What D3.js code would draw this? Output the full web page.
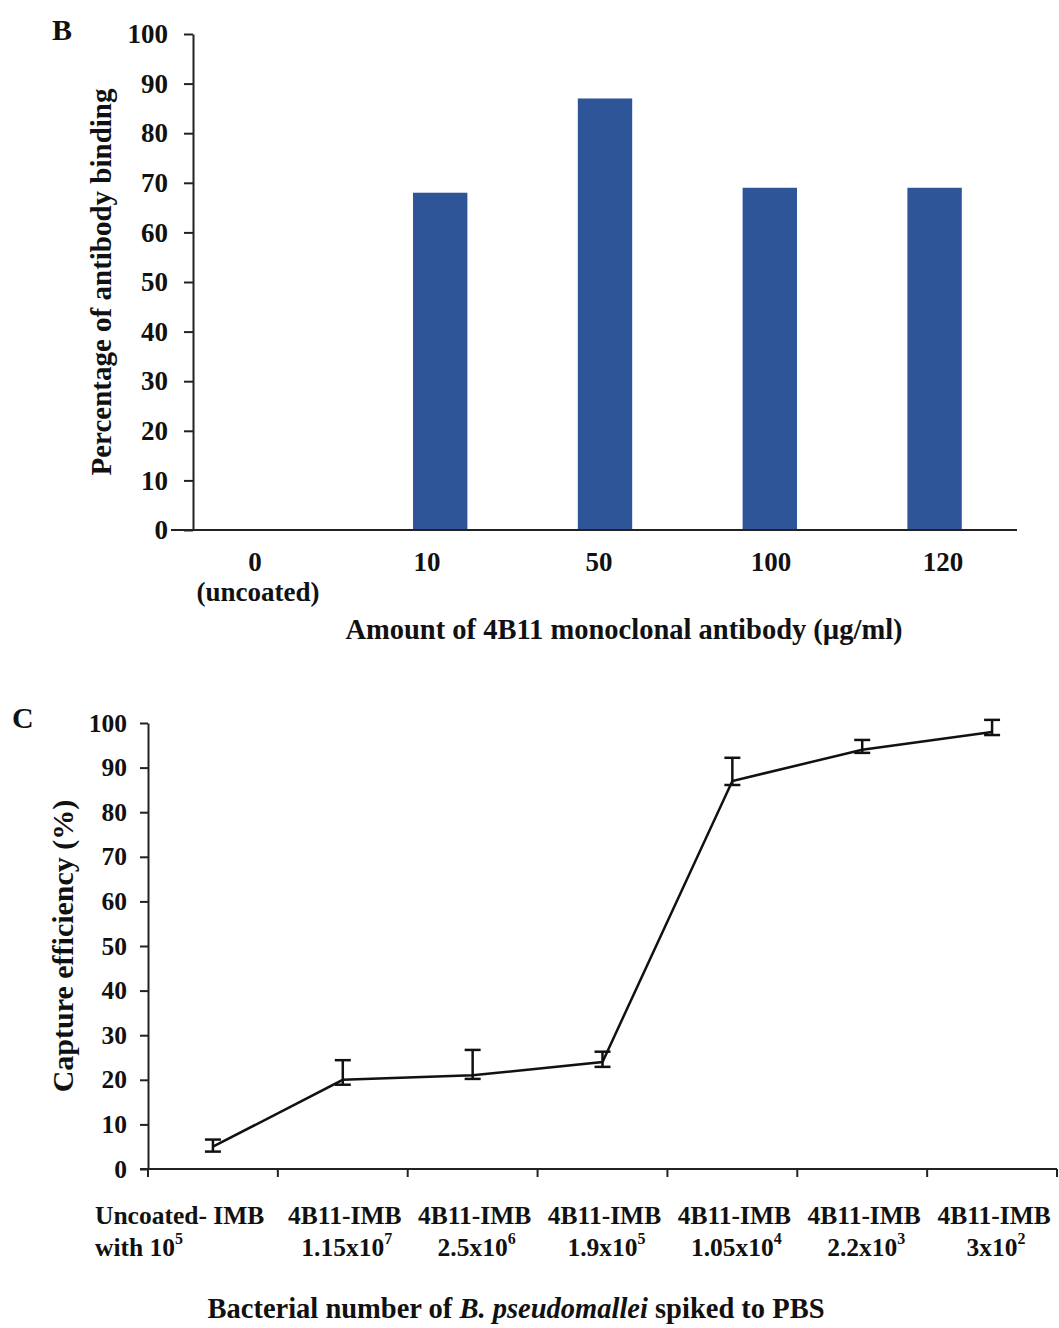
<!DOCTYPE html>
<html>
<head>
<meta charset="utf-8">
<script src="https://cdn.jsdelivr.net/npm/d3@7"></script>
<style>
	body { margin: 0; background: #fff; }
	text { font-family: "Liberation Serif", "Times New Roman", serif; font-weight: bold; fill: #111; }
	.axis path, .axis line { stroke: #222; stroke-width: 2; }
</style>
</head>
<body>
<script>
// panel B data
const amounts = ["0", "10", "50", "100", "120"];
const amountSub = ["(uncoated)", "", "", "", ""];
const binding = [0, 68, 87, 69, 69];
const yTicksB = [0, 10, 20, 30, 40, 50, 60, 70, 80, 90, 100];

// panel C data
const capLine1 = ["Uncoated- IMB", "4B11-IMB", "4B11-IMB", "4B11-IMB", "4B11-IMB", "4B11-IMB", "4B11-IMB"];
const capLine2 = ["with 10", "1.15x10", "2.5x10", "1.9x10", "1.05x10", "2.2x10", "3x10"];
const capExp = ["5", "7", "6", "5", "4", "3", "2"];
const capValues = [5, 20, 21, 24, 87, 94, 98];
const capErrUp = [1.6, 4.4, 5.7, 2.3, 5.2, 2.2, 2.7];
const capErrDown = [1.1, 1.1, 0.8, 1.1, 0.9, 0.7, 0.7];
const yTicksC = [0, 10, 20, 30, 40, 50, 60, 70, 80, 90, 100];

const width = 1059;
const height = 1328;

const svg = d3.select("body")
	.append("svg")
	.attr("width", width)
	.attr("height", height)
	.attr("viewBox", `0 0 ${width} ${height}`);

// ---------- panel B ----------
const mB = { left: 193, right: 1017, top: 34, bottom: 530 };

const xB = d3.scaleBand()
	.domain(amounts)
	.range([mB.left, mB.right])
	.paddingInner(0.67)
	.paddingOuter(0.335);

// the category labels sit on a slightly wider band than the bars
const xBLab = d3.scaleBand()
	.domain(amounts)
	.range([mB.left - 24, mB.right + 12]);

const yB = d3.scaleLinear()
	.domain([0, 100])
	.range([mB.bottom, mB.top]);

svg.append("text")
	.attr("x", 52)
	.attr("y", 40)
	.style("font-size", "30px")
	.text("B");

svg.append("g")
	.selectAll("rect")
	.data(amounts)
	.join("rect")
	.attr("x", (d) => xB(d))
	.attr("width", xB.bandwidth())
	.attr("y", (d, i) => yB(binding[i]))
	.attr("height", (d, i) => mB.bottom - yB(binding[i]))
	.attr("fill", "#2d5598");

const yAxisB = svg.append("g")
	.attr("class", "axis")
	.attr("transform", `translate(${mB.left} 0)`)
	.call(d3.axisLeft(yB).tickValues(yTicksB).tickSize(9).tickSizeOuter(0).tickPadding(16));
yAxisB.selectAll("text").style("font-size", "27px").attr("font-family", null);

// x baseline, runs a little past the y axis
svg.append("line")
	.attr("x1", mB.left - 22)
	.attr("x2", mB.right)
	.attr("y1", yB(0))
	.attr("y2", yB(0))
	.attr("stroke", "#222")
	.attr("stroke-width", 2);

const labX = (d) => xBLab(d) + xBLab.bandwidth() / 2;
svg.append("g")
	.selectAll("text")
	.data(amounts)
	.join("text")
	.attr("text-anchor", "middle")
	.attr("x", labX)
	.attr("y", 571)
	.style("font-size", "27px")
	.text((d) => d);
svg.append("g")
	.selectAll("text")
	.data(amounts.filter((d, i) => amountSub[i]))
	.join("text")
	.attr("text-anchor", "middle")
	.attr("x", (d) => labX(d) + 3)
	.attr("y", 601)
	.style("font-size", "27px")
	.text((d) => amountSub[amounts.indexOf(d)]);

svg.append("text")
	.attr("text-anchor", "middle")
	.attr("x", 624)
	.attr("y", 639)
	.style("font-size", "28.5px")
	.text("Amount of 4B11 monoclonal antibody (µg/ml)");

svg.append("text")
	.attr("text-anchor", "middle")
	.attr("transform", `translate(111 ${(mB.top + mB.bottom) / 2 + 0}) rotate(-90)`)
	.style("font-size", "29px")
	.text("Percentage of antibody binding");

// ---------- panel C ----------
const mC = { left: 148, right: 1057, top: 723, bottom: 1169 };

const xC = d3.scaleBand()
	.domain(capLine2)
	.range([mC.left, mC.right]);

const yC = d3.scaleLinear()
	.domain([0, 100])
	.range([mC.bottom, mC.top]);

svg.append("text")
	.attr("x", 12)
	.attr("y", 728)
	.style("font-size", "30px")
	.text("C");

const yAxisC = svg.append("g")
	.attr("class", "axis")
	.attr("transform", `translate(${mC.left} 0)`)
	.call(d3.axisLeft(yC).tickValues(yTicksC).tickSize(8).tickSizeOuter(0).tickPadding(13));
yAxisC.selectAll("text").style("font-size", "25.5px").attr("font-family", null);

// x axis with ticks on the category boundaries
const boundaries = capLine2.map((d) => xC(d)).concat([mC.right]);
const xAxisC = svg.append("g").attr("class", "axis");
xAxisC.append("line")
	.attr("x1", mC.left - 8)
	.attr("x2", mC.right)
	.attr("y1", yC(0))
	.attr("y2", yC(0));
xAxisC.selectAll(".tk")
	.data(boundaries)
	.join("line")
	.attr("class", "tk")
	.attr("x1", (d) => d)
	.attr("x2", (d) => d)
	.attr("y1", yC(0))
	.attr("y2", yC(0) + 8);

const cx = (d) => xC(d) + xC.bandwidth() / 2;

// error bars
const errG = svg.append("g")
	.selectAll("g")
	.data(capLine2)
	.join("g")
	.attr("stroke", "#111")
	.attr("stroke-width", 2.5);
errG.append("line")
	.attr("x1", cx).attr("x2", cx)
	.attr("y1", (d, i) => yC(capValues[i] + capErrUp[i]))
	.attr("y2", (d, i) => yC(capValues[i] - capErrDown[i]));
errG.append("line")
	.attr("x1", (d) => cx(d) - 8).attr("x2", (d) => cx(d) + 8)
	.attr("y1", (d, i) => yC(capValues[i] + capErrUp[i]))
	.attr("y2", (d, i) => yC(capValues[i] + capErrUp[i]));
errG.append("line")
	.attr("x1", (d) => cx(d) - 8).attr("x2", (d) => cx(d) + 8)
	.attr("y1", (d, i) => yC(capValues[i] - capErrDown[i]))
	.attr("y2", (d, i) => yC(capValues[i] - capErrDown[i]));

const line = d3.line()
	.x((d, i) => cx(capLine2[i]))
	.y((d) => yC(d));

svg.append("path")
	.datum(capValues)
	.attr("d", line)
	.attr("fill", "none")
	.attr("stroke", "#111")
	.attr("stroke-width", 2.5);

// tick labels (two lines, exponent as superscript)
const xLabC = svg.append("g")
	.selectAll("text")
	.data(capLine2)
	.join("text")
	.style("font-size", "25.5px")
	.attr("text-anchor", (d, i) => (i === 0 ? "start" : "middle"))
	.attr("x", (d, i) => (i === 0 ? xC(d) - 53 : cx(d) + 2));
xLabC.append("tspan")
	.attr("y", 1224)
	.text((d, i) => capLine1[i]);
xLabC.append("tspan")
	.attr("x", (d, i) => (i === 0 ? xC(d) - 53 : cx(d) + 4))
	.attr("y", 1256)
	.text((d) => d);
xLabC.append("tspan")
	.attr("dy", -12)
	.style("font-size", "16px")
	.text((d, i) => capExp[i]);

const titleC = svg.append("text")
	.attr("text-anchor", "middle")
	.attr("x", 516)
	.attr("y", 1318)
	.style("font-size", "28.5px");
titleC.append("tspan").text("Bacterial number of ");
titleC.append("tspan").style("font-style", "italic").text("B. pseudomallei");
titleC.append("tspan").text("  spiked to PBS");

svg.append("text")
	.attr("text-anchor", "middle")
	.attr("transform", `translate(73 ${(mC.top + mC.bottom) / 2 + 0}) rotate(-90)`)
	.style("font-size", "30px")
	.text("Capture efficiency (%)");
</script>
</body>
</html>
